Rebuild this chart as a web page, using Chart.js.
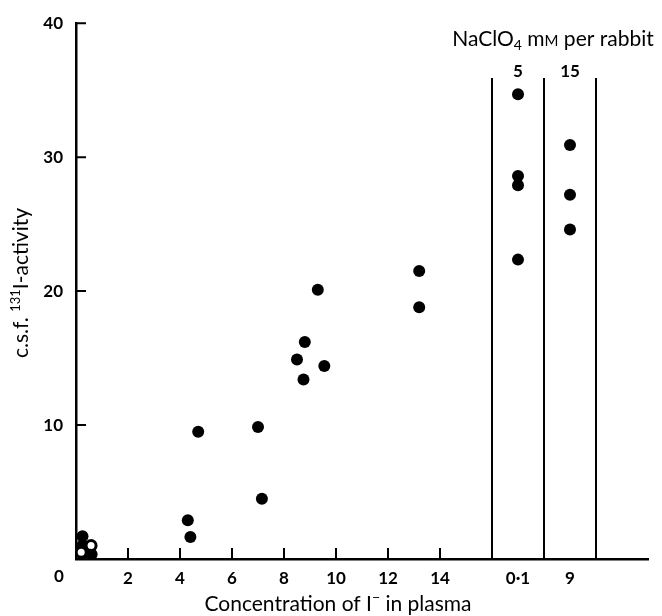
<!DOCTYPE html>
<html>
<head>
<meta charset="utf-8">
<script src="https://cdn.jsdelivr.net/npm/chart.js@4.4.0/dist/chart.umd.min.js"></script>
<style>
  html, body { margin: 0; padding: 0; background: #fff; }
</style>
</head>
<body>
<canvas id="myChart" width="662" height="616"></canvas>
<script>
// axis ticks
const xTicks = [2, 4, 6, 8, 10, 12, 14];
const yTicks = [10, 20, 30, 40];

// perchlorate columns to the right of the iodide scale
const groupPos = [17, 19];
const groupLabels = ['0·1', '9'];
const doseLabels = ['5', '15'];
const dividerPos = [16, 18, 20];
const dividerTop = 35.9;

// c.s.f. activity against plasma iodide
const iodideX = [4.3, 4.4, 4.7, 7.0, 7.15, 8.5, 8.75, 8.8, 9.3, 9.55, 13.2, 13.2];
const iodideY = [2.9, 1.65, 9.5, 9.85, 4.5, 14.9, 13.4, 16.2, 20.1, 14.4, 21.5, 18.8];

// cluster at the origin (filled and open)
const lowX = [0.25, 0.25, 0.3, 0.6];
const lowY = [1.7, 1.0, 0.3, 0.35];
const openX = [0.2, 0.58];
const openY = [0.5, 1.0];

// with NaClO4, 5 and 15 mM per rabbit
const dose5Y = [34.7, 28.6, 27.9, 22.35];
const dose15Y = [30.9, 27.2, 24.6];

const FONT = 'Lato, "Open Sans", sans-serif';

function toPoints(xs, ys) {
  return xs.map((x, i) => ({ x: x, y: ys[i] }));
}

// draws a row of text pieces with their own size and vertical shift
function drawRuns(ctx, runs, x, y, align) {
  let total = 0;
  runs.forEach(r => {
    ctx.font = (r.w || 'normal') + ' ' + r.s + 'px ' + FONT;
    r.width = ctx.measureText(r.t).width;
    total += r.width;
  });
  let cx = align === 'center' ? x - total / 2 : x;
  ctx.textAlign = 'left';
  ctx.textBaseline = 'alphabetic';
  runs.forEach(r => {
    ctx.font = (r.w || 'normal') + ' ' + r.s + 'px ' + FONT;
    ctx.fillText(r.t, cx, y + (r.dy || 0));
    cx += r.width;
  });
}

const annotate = {
  id: 'annotate',
  afterDraw(chart) {
    const ctx = chart.ctx;
    const xs = chart.scales.x;
    const ys = chart.scales.y;
    const x0 = xs.getPixelForValue(0);
    const y0 = ys.getPixelForValue(0);
    ctx.save();
    ctx.strokeStyle = '#000';
    ctx.fillStyle = '#000';
    ctx.lineWidth = 2;
    ctx.beginPath();
    xTicks.forEach(v => {
      const px = xs.getPixelForValue(v);
      ctx.moveTo(px, y0);
      ctx.lineTo(px, y0 - 11);
    });
    yTicks.forEach(v => {
      const py = ys.getPixelForValue(v);
      ctx.moveTo(x0, py);
      ctx.lineTo(x0 + 10, py);
    });
    ctx.stroke();

    // shared origin label
    ctx.font = 'bold 17px ' + FONT;
    ctx.textAlign = 'center';
    ctx.textBaseline = 'middle';
    ctx.fillText('0', x0 - 17, y0 + 18);

    // dose labels over the columns
    doseLabels.forEach((t, i) => {
      ctx.fillText(t, xs.getPixelForValue(groupPos[i]), ys.getPixelForValue(dividerTop) - 7);
    });

    // axis titles
    drawRuns(ctx, [
      { t: 'Concentration of I', s: 21 },
      { t: '\u2212', s: 14, dy: -9 },
      { t: ' in plasma', s: 21 }
    ], 338, 611, 'center');

    ctx.save();
    ctx.translate(28, 283);
    ctx.rotate(-Math.PI / 2);
    drawRuns(ctx, [
      { t: 'c.s.f. ', s: 21 },
      { t: '131', s: 13, dy: -8 },
      { t: 'I-activity', s: 21 }
    ], 0, 0, 'center');
    ctx.restore();

    drawRuns(ctx, [
      { t: 'NaClO', s: 21 },
      { t: '4', s: 14, dy: 4 },
      { t: ' m', s: 21 },
      { t: 'M', s: 15 },
      { t: ' per rabbit', s: 21 }
    ], 553, 46, 'center');
    ctx.restore();
  }
};

const dots = { pointRadius: 6, pointHoverRadius: 6, backgroundColor: '#000', borderWidth: 0, showLine: false, clip: 0 };

const dividers = dividerPos.map(p => ({
  type: 'line',
  data: [{ x: p, y: 0 }, { x: p, y: dividerTop }],
  borderColor: '#000',
  borderWidth: 2,
  pointRadius: 0,
  clip: 0
}));

const ctx = document.getElementById('myChart');
new Chart(ctx, {
  type: 'scatter',
  data: {
    datasets: [
      { data: toPoints(openX, openY), pointRadius: 5, pointHoverRadius: 5, backgroundColor: '#fff', borderColor: '#000', borderWidth: 3, showLine: false, clip: 0 },
      Object.assign({ data: toPoints(lowX, lowY) }, dots),
      Object.assign({ data: toPoints(iodideX, iodideY) }, dots),
      Object.assign({ data: dose5Y.map(y => ({ x: groupPos[0], y: y })) }, dots),
      Object.assign({ data: dose15Y.map(y => ({ x: groupPos[1], y: y })) }, dots)
    ].concat(dividers)
  },
  options: {
    responsive: false,
    animation: false,
    devicePixelRatio: 1,
    layout: { padding: { top: 21, right: 14, left: 0, bottom: 0 } },
    plugins: { legend: { display: false }, tooltip: { enabled: false } },
    scales: {
      x: {
        type: 'linear',
        min: 0,
        max: 22,
        afterFit: scale => { scale.height = 57; },
        afterBuildTicks: scale => {
          scale.ticks = xTicks.concat(groupPos).map(v => ({ value: v }));
        },
        grid: { display: false, drawTicks: false },
        border: { display: true, color: '#000', width: 2.5 },
        ticks: {
          padding: 9,
          color: '#000',
          font: { family: FONT, size: 17, weight: 'bold' },
          maxRotation: 0,
          autoSkip: false,
          callback: v => {
            const i = groupPos.indexOf(v);
            return i >= 0 ? groupLabels[i] : String(v);
          }
        }
      },
      y: {
        type: 'linear',
        min: 0,
        max: 40,
        afterFit: scale => { scale.width = 76; },
        afterBuildTicks: scale => {
          scale.ticks = yTicks.map(v => ({ value: v }));
        },
        grid: { display: false, drawTicks: false },
        border: { display: true, color: '#000', width: 2.5 },
        ticks: {
          padding: 13,
          color: '#000',
          font: { family: FONT, size: 17, weight: 'bold' }
        }
      }
    }
  },
  plugins: [annotate]
});
</script>
</body>
</html>
